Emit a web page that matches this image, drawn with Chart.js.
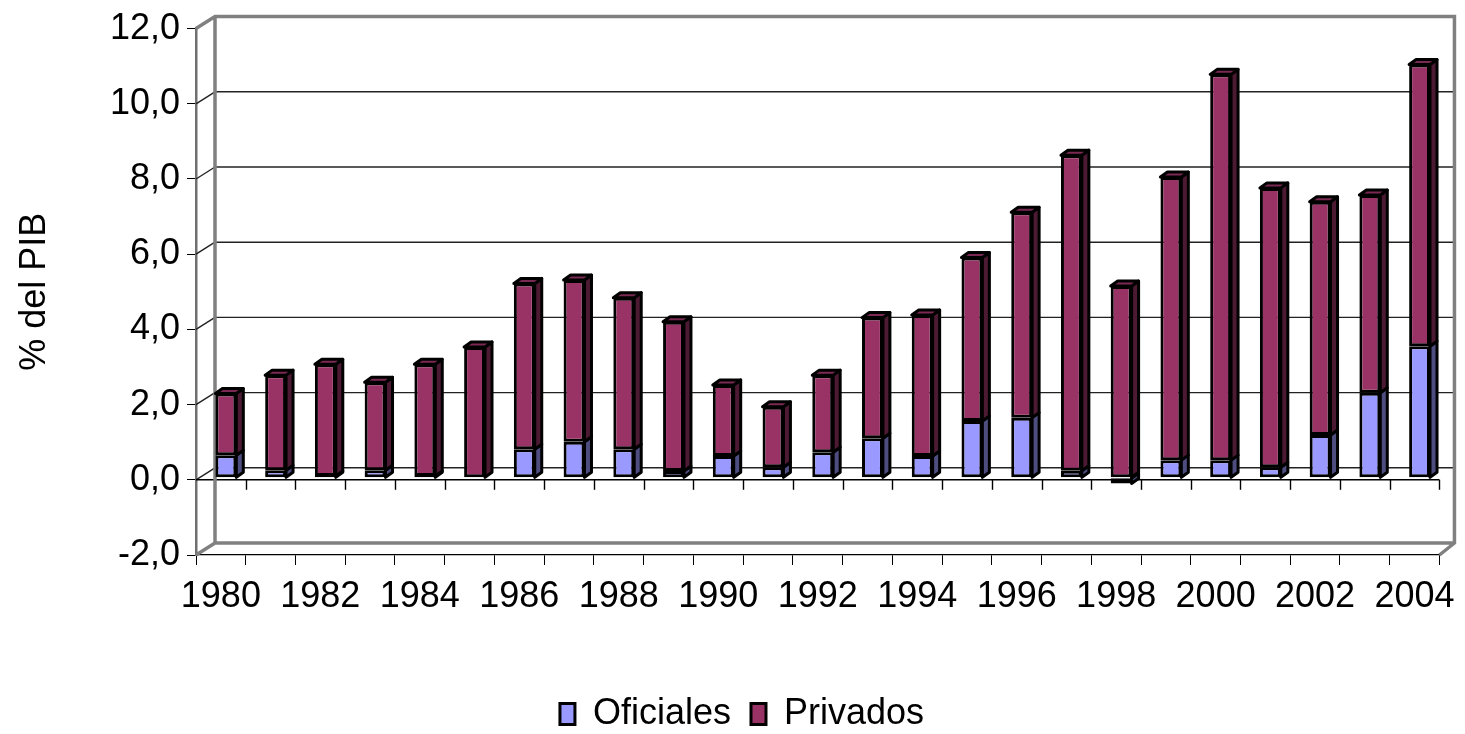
<!DOCTYPE html>
<html>
<head>
<meta charset="utf-8">
<script src="https://cdn.jsdelivr.net/npm/chart.js@4.4.0/dist/chart.umd.min.js"></script>
<style>
  html, body { margin: 0; padding: 0; background: #fff; }
</style>
</head>
<body>
<canvas id="chart" width="1465" height="734"></canvas>
<script>
const years = ['1980', '1981', '1982', '1983', '1984', '1985', '1986', '1987', '1988', '1989',
  '1990', '1991', '1992', '1993', '1994', '1995', '1996', '1997', '1998', '1999',
  '2000', '2001', '2002', '2003', '2004'];
const oficiales = [0.60, 0.20, 0.05, 0.20, 0.05, 0.00, 0.76, 0.96, 0.76, 0.18,
  0.58, 0.28, 0.68, 1.05, 0.58, 1.51, 1.60, 0.19, -0.15, 0.47,
  0.47, 0.28, 1.14, 2.26, 3.50];
const privados = [1.64, 2.53, 2.97, 2.34, 2.97, 3.48, 4.41, 4.30, 4.03, 3.97,
  1.89, 1.61, 2.05, 3.21, 3.75, 4.35, 5.46, 8.39, 5.10, 7.53,
  10.26, 7.43, 6.20, 5.26, 7.49];

const fmt = v => v.toFixed(1).replace('.', ',');

Chart.defaults.font.family = "'Liberation Sans', Arial, sans-serif";
Chart.defaults.color = '#000';

// fake 3d look: back wall, floor lines and bar sides
const sideColors = ['#4d4d80', '#4d1a33'];
const topColor = '#7a2952';
const depth = { x: 7, y: -5 };

const wall3d = {
  id: 'wall3d',
  beforeDatasetsDraw(chart) {
    const { ctx, chartArea: a, scales: { x, y } } = chart;
    const wl = a.left + 19, wr = a.right + 15, dy = -12;
    const yTop = y.getPixelForValue(12) + dy;
    const yFloor = y.getPixelForValue(-2) + dy;
    const line = (x1, y1, x2, y2) => { ctx.beginPath(); ctx.moveTo(x1, y1); ctx.lineTo(x2, y2); ctx.stroke(); };

    ctx.save();
    ctx.strokeStyle = '#222';
    ctx.lineWidth = 1.4;
    for (let v = 0; v <= 10; v += 2) {
      const py = y.getPixelForValue(v);
      line(a.left, py, wl, py + dy);
      line(wl, py + dy, wr, py + dy);
    }
    // category axis at zero
    const y0 = y.getPixelForValue(0);
    const half = (x.getPixelForValue(1) - x.getPixelForValue(0)) / 2;
    ctx.strokeStyle = '#000';
    ctx.lineWidth = 1.4;
    line(a.left, y0, a.right, y0);
    for (let i = 0; i < years.length; i++) {
      const bx = Math.round(x.getPixelForValue(i) + half) + 0.5;
      line(bx, y0, bx, y0 + 10);
    }
    // wall frame
    ctx.strokeStyle = '#808080';
    ctx.lineWidth = 3.5;
    ctx.beginPath();
    ctx.moveTo(a.left, a.top);
    ctx.lineTo(wl, yTop);
    ctx.lineTo(wr, yTop);
    ctx.lineTo(wr, yFloor);
    ctx.lineTo(a.right, a.bottom);
    ctx.moveTo(wl, yTop);
    ctx.lineTo(wl, yFloor);
    ctx.lineTo(wr, yFloor);
    ctx.moveTo(a.left, a.bottom);
    ctx.lineTo(wl, yFloor);
    ctx.stroke();
    ctx.restore();

    ctx.save();
    ctx.translate(5, -2);
  },
  afterDatasetsDraw(chart) {
    const { ctx } = chart;
    ctx.lineWidth = 3;
    ctx.strokeStyle = '#000';
    ctx.lineJoin = 'round';
    chart.data.datasets.forEach((ds, di) => {
      const meta = chart.getDatasetMeta(di);
      meta.data.forEach((el) => {
        const p = el.getProps(['x', 'y', 'base', 'width'], true);
        const left = p.x - p.width / 2, right = p.x + p.width / 2;
        const top = Math.min(p.y, p.base), bottom = Math.max(p.y, p.base);
        if (bottom - top < 0.5) return;
        ctx.fillStyle = sideColors[di];
        ctx.beginPath();
        ctx.moveTo(right, top);
        ctx.lineTo(right + depth.x, top + depth.y);
        ctx.lineTo(right + depth.x, bottom + depth.y);
        ctx.lineTo(right, bottom);
        ctx.closePath();
        ctx.fill();
        ctx.stroke();
        if (di === 1) {
          ctx.fillStyle = topColor;
          ctx.beginPath();
          ctx.moveTo(left, top);
          ctx.lineTo(left + depth.x, top + depth.y);
          ctx.lineTo(right + depth.x, top + depth.y);
          ctx.lineTo(right, top);
          ctx.closePath();
          ctx.fill();
          ctx.stroke();
        }
      });
    });
    ctx.restore();
  }
};

new Chart(document.getElementById('chart'), {
  type: 'bar',
  data: {
    labels: years,
    datasets: [
      { label: 'Oficiales', data: oficiales, backgroundColor: '#9999ff', borderColor: '#000', borderWidth: 3,
        borderSkipped: false, categoryPercentage: 1, barPercentage: 0.42 },
      { label: 'Privados', data: privados, backgroundColor: '#993366', borderColor: '#000', borderWidth: 3,
        borderSkipped: false, categoryPercentage: 1, barPercentage: 0.42 }
    ]
  },
  options: {
    responsive: false,
    animation: false,
    layout: { padding: { left: 38, right: 19, top: 28, bottom: -8 } },
    plugins: {
      tooltip: { enabled: false },
      legend: {
        position: 'bottom',
        labels: { font: { size: 36 }, color: '#000', boxWidth: 15, boxHeight: 21, padding: 20 }
      }
    },
    scales: {
      x: {
        stacked: true,
        offset: true,
        grid: { offset: true, drawOnChartArea: false, tickLength: 10, color: '#000', lineWidth: 1 },
        border: { color: '#000', width: 1.3 },
        ticks: {
          autoSkip: false, maxRotation: 0, minRotation: 0, padding: 10,
          font: { size: 36 }, color: '#000',
          callback: (v, i) => i % 2 === 0 ? years[i] : ''
        },
        afterFit: s => { s.height = 121; }
      },
      y: {
        stacked: true,
        min: -2,
        max: 12,
        ticks: { stepSize: 2, padding: 7, font: { size: 36 }, color: '#000', callback: v => fmt(v) },
        grid: { drawOnChartArea: false, tickLength: 9, color: '#000', lineWidth: 1 },
        border: { color: '#707070', width: 2.5 },
        title: { display: true, text: '% del PIB', color: '#000', font: { size: 36 }, padding: { top: -24.6, bottom: 0 } },
        afterFit: s => { s.width = 158; }
      }
    }
  },
  plugins: [wall3d]
});
</script>
</body>
</html>
